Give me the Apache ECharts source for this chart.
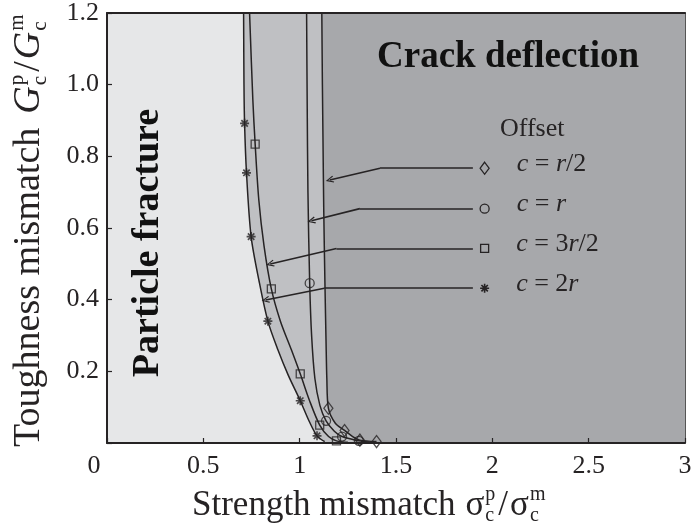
<!DOCTYPE html>
<html><head><meta charset="utf-8">
<script src="https://cdn.jsdelivr.net/npm/echarts@6/dist/echarts.min.js"></script>
<style>html,body{margin:0;padding:0;background:#fff}#c{width:694px;height:530px}</style>
</head><body><div id="c"></div>
<script>
// ---------------- data ----------------
const xTicks = [0, 0.5, 1, 1.5, 2, 2.5, 3];
const yTicks = [0, 0.2, 0.4, 0.6, 0.8, 1.0, 1.2];
const offsets = ['c = r/2', 'c = r', 'c = 3r/2', 'c = 2r'];

// curves (strength mismatch, toughness mismatch)
const curveHalfR = [[1.115,1.2],[1.118,1.0],[1.121,0.85],[1.125,0.65],[1.131,0.45],[1.137,0.28],[1.141,0.18],[1.149,0.097],[1.185,0.055],[1.233,0.035],[1.275,0.018],[1.3125,0.008],[1.399,0.004]];
const curveR = [[1.036,1.2],[1.039,0.95],[1.043,0.7],[1.052,0.446],[1.062,0.3],[1.079,0.18],[1.105,0.105],[1.137,0.062],[1.18,0.033],[1.22,0.018],[1.307,0.006],[1.36,0.002]];
const curve3HalfR = [[0.74,1.2],[0.757,0.957],[0.769,0.834],[0.788,0.678],[0.815,0.55],[0.853,0.43],[0.9,0.34],[0.957,0.26],[1.003,0.193],[1.05,0.12],[1.104,0.05],[1.15,0.018],[1.191,0.006],[1.25,0.002]];
const curve2R = [[0.709,1.2],[0.711,1.0],[0.714,0.892],[0.724,0.754],[0.748,0.576],[0.79,0.45],[0.835,0.34],[0.887,0.26],[0.94,0.19],[1.003,0.118],[1.05,0.06],[1.09,0.02],[1.13,0.004]];

// marked points on each curve
const markHalfR = [[1.149,0.097],[1.233,0.035],[1.3125,0.008],[1.399,0.004]];
const markR = [[1.052,0.446],[1.137,0.062],[1.22,0.018],[1.307,0.006]];
const mark3HalfR = [[0.769,0.834],[0.853,0.43],[1.003,0.193],[1.104,0.05],[1.191,0.006]];
const mark2R = [[0.714,0.892],[0.724,0.754],[0.748,0.576],[0.835,0.34],[1.003,0.118],[1.09,0.02]];

// key entries and leader lines (data coordinates)
const keyX = 1.96;
const keyY = [0.767, 0.654, 0.543, 0.432];
const leaderStartX = 1.899;
const leaderBendX = [1.417, 1.3125, 1.191, 1.128];
const leaderTip = [[1.156,0.734],[1.061,0.62],[0.847,0.4996],[0.823,0.399]];

// ---------------- style ----------------
const INK = '#262324';
const LIGHT = '#e6e7e8', MID = '#bfc0c3', DARK = '#a7a8ab';
const SERIF = '"Liberation Serif", "Times New Roman", serif';
const SMOOTH = 0.3;
const CHEVRON = 'path://M5,0 L10,9 L8.6,9.8 L5,2.9 L1.4,9.8 L0,9 Z';
const ASTER = 'path://M-0.9,-5 L0.9,-5 L0.9,5 L-0.9,5 Z M-5,-0.9 L5,-0.9 L5,0.9 L-5,0.9 Z M-2.9,-4.2 L4.2,2.9 L2.9,4.2 L-4.2,-2.9 Z M2.9,-4.2 L4.2,-2.9 L-2.9,4.2 L-4.2,2.9 Z';

const curves = [curveHalfR, curveR, curve3HalfR, curve2R];
const marks = [markHalfR, markR, mark3HalfR, mark2R];
const symbols = ['diamond', 'circle', 'rect', ASTER];
const sizes = [[9,12], 9, 8, 9];

const cv = document.createElement('canvas').getContext('2d');
function tw(t, f) { cv.font = f; return cv.measureText(t).width; }
function richName(n) { return n.replace(/([a-z])/g, '{i|$1}'); }

function symStyle(i) {
  return i === 3 ? {color: INK, borderWidth: 0}
                 : {color: 'rgba(0,0,0,0)', borderColor: INK, borderWidth: 1.3};
}

const series = [];
// shaded regions
const areaOf = c => [[0, 1.45], [c[0][0], 1.45]].concat(c);
series.push({type:'line', data: areaOf(curveHalfR), smooth: SMOOTH, showSymbol:false, silent:true,
  lineStyle:{width:0}, areaStyle:{color: MID, opacity:1}, z:1});
series.push({type:'line', data: areaOf(curve2R), smooth: SMOOTH, showSymbol:false, silent:true,
  lineStyle:{width:0}, areaStyle:{color: LIGHT, opacity:1}, z:1});
// curves
curves.forEach(c => series.push({type:'line', data:c, smooth:SMOOTH, showSymbol:false, silent:true,
  lineStyle:{color: INK, width:1.5}, z:2}));
// markers + key + leaders
marks.forEach((m, i) => {
  series.push({
    type:'scatter', name: offsets[i], data: m, symbol: symbols[i], symbolSize: sizes[i],
    itemStyle: symStyle(i), silent:true, z:3,
    markPoint: {
      silent:true, symbol: symbols[i], symbolSize: sizes[i], itemStyle: symStyle(i),
      data:[{coord:[keyX, keyY[i]]}],
      label:{show:true, position:'right', distance:27, offset:[0,-4],
        formatter: () => richName(offsets[i]),
        fontSize:26, fontFamily:SERIF, color:INK,
        rich:{i:{fontStyle:'italic', fontSize:26, fontFamily:SERIF, color:INK}}}
    },
    markLine: {
      silent:true, animation:false, symbol:['none','none'], label:{show:false},
      lineStyle:{color:INK, width:1.6, type:'solid'},
      emphasis:{disabled:true},
      data:[
        [{coord:[leaderStartX, keyY[i]], symbol:'none'}, {coord:[leaderBendX[i], keyY[i]], symbol:'none'}],
        [{coord:[leaderBendX[i], keyY[i]], symbol:'none'}, {coord:leaderTip[i], symbol:CHEVRON, symbolSize:[7,8]}]
      ]
    }
  });
});

// axis titles with stacked scripts
function titleParts(F, gap, main, sym, symItalic, sup1, sub1, sup2, sub2) {
  const S = Math.round(F * 0.56);
  const mainFont = F + 'px ' + SERIF;
  const symFont = (symItalic ? 'italic ' : '') + F + 'px ' + SERIF;
  const scFont = S + 'px ' + SERIF;
  let x = 0; const els = [];
  const add = (text, font, dy) => els.push({type:'text', x:x, y:dy,
    style:{text, font, fill:INK, textVerticalAlign:'middle', verticalAlign:'middle'}});
  add(main, mainFont, 0); x += tw(main, mainFont) + gap;
  add(sym, symFont, 0); x += tw(sym, symFont) + 1;
  add(sup1, scFont, -Math.round(F * 0.32)); add(sub1, scFont, Math.round(F * 0.29));
  x += Math.max(tw(sup1, scFont), tw(sub1, scFont)) + 3;
  add('/', mainFont, 0); x += tw('/', mainFont) + 2;
  add(sym, symFont, 0); x += tw(sym, symFont) + 1;
  add(sup2, scFont, -Math.round(F * 0.32)); add(sub2, scFont, Math.round(F * 0.29));
  return els;
}

const axisLabelBase = {fontSize:26, fontFamily:SERIF, color:INK};
const option = {
  animation:false,
  backgroundColor:'#ffffff',
  grid:{left:107, right:9, top:13, bottom:87, show:true, backgroundColor:DARK, borderWidth:0, outerBoundsMode:'none'},
  xAxis:[{
    type:'value', min:xTicks[0], max:xTicks[xTicks.length-1], interval:xTicks[1]-xTicks[0], z:10,
    axisLine:{show:true, onZero:false, lineStyle:{color:INK, width:2}},
    axisTick:{show:true, inside:true, length:5, lineStyle:{color:INK, width:1.2}},
    splitLine:{show:false},
    axisLabel:Object.assign({}, axisLabelBase, {margin:10, showMinLabel:true, showMaxLabel:true,
      formatter: v => v === 0 ? '{z|0}' : String(v),
      rich:{z:{fontSize:26, fontFamily:SERIF, color:INK, padding:[0,26,0,0]}}})
  },{
    type:'value', position:'top', min:xTicks[0], max:xTicks[xTicks.length-1], z:10,
    axisLine:{show:true, onZero:false, lineStyle:{color:INK, width:2}},
    axisTick:{show:false}, axisLabel:{show:false}, splitLine:{show:false}
  }],
  yAxis:[{
    type:'value', min:yTicks[0], max:yTicks[yTicks.length-1], interval:yTicks[1]-yTicks[0], z:10,
    axisLine:{show:true, onZero:false, lineStyle:{color:INK, width:2}},
    axisTick:{show:true, inside:true, length:5, lineStyle:{color:INK, width:1.2}},
    splitLine:{show:false},
    axisLabel:Object.assign({}, axisLabelBase, {margin:8, showMinLabel:true, showMaxLabel:true,
      formatter: v => v === 0 ? '' : v.toFixed(1)})
  },{
    type:'value', position:'right', min:yTicks[0], max:yTicks[yTicks.length-1], z:10,
    axisLine:{show:true, onZero:false, lineStyle:{color:'#555', width:1}},
    axisTick:{show:false}, axisLabel:{show:false}, splitLine:{show:false}
  }],
  series: series,
  graphic:[
    {type:'text', x:377, y:57, z:100, silent:true,
      style:{text:'Crack deflection', font:'bold 37px ' + SERIF, fill:'#111',
        textVerticalAlign:'middle', verticalAlign:'middle'}},
    {type:'text', x:148, y:243, rotation:Math.PI/2, z:100, silent:true,
      style:{text:'Particle fracture', font:'bold 38px ' + SERIF, fill:'#111',
        textAlign:'center', align:'center', textVerticalAlign:'middle', verticalAlign:'middle'}},
    {type:'text', x:500, y:129, z:100, silent:true,
      style:{text:'Offset', font:'26px ' + SERIF, fill:INK, textVerticalAlign:'middle', verticalAlign:'middle'}},
    {type:'group', x:192, y:506, silent:true,
      children: titleParts(35, 10, 'Strength mismatch', 'σ', false, 'p', 'c', 'm', 'c')},
    {type:'group', x:29, y:447, rotation:Math.PI/2, silent:true,
      children: titleParts(38, 14, 'Toughness mismatch', 'G', true, 'p', 'c', 'm', 'c')}
  ]
};
const chart = echarts.init(document.getElementById('c'), null, {renderer:'canvas'});
chart.setOption(option);
</script></body></html>
